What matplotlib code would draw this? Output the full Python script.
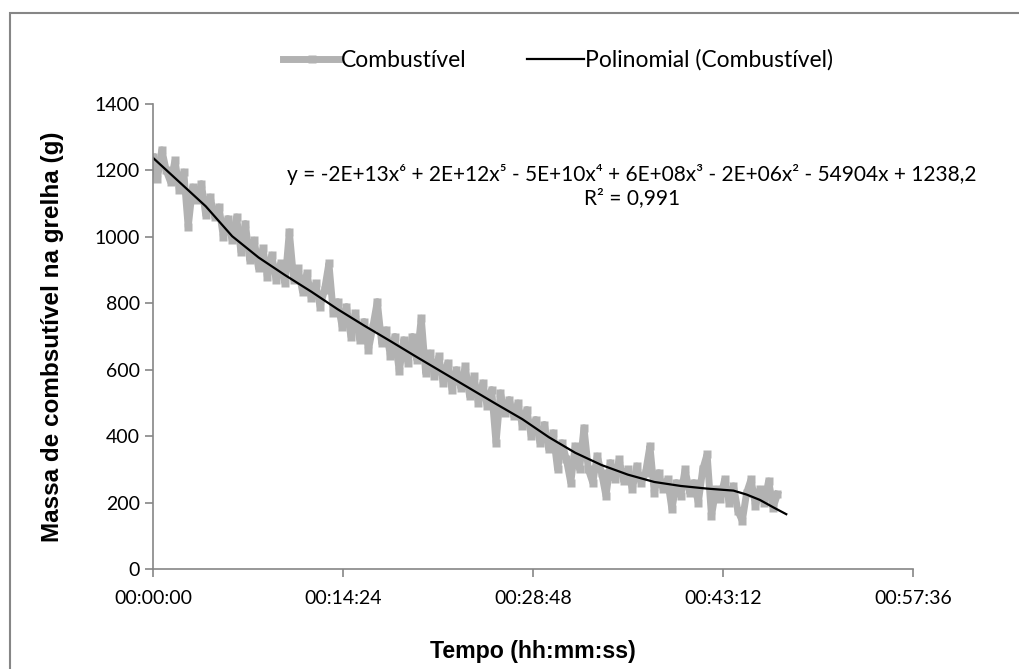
import matplotlib
matplotlib.use("Agg")
import matplotlib.pyplot as plt
import matplotlib.patches as mpatches
from matplotlib.ticker import FuncFormatter, MultipleLocator

# sampling step of the fuel series (seconds)
SAMPLE_STEP_S = 20

# mass on the grate (g), one reading every 20 s
combustivel = [
    1240, 1175, 1262, 1200, 1165, 1230, 1140, 1195, 1030, 1150, 1110, 1160,
    1065, 1120, 1060, 1090, 1000, 1055, 990, 1060, 955, 1040, 930, 990,
    905, 965, 880, 945, 870, 920, 860, 1015, 870, 905, 835, 890,
    815, 860, 790, 840, 920, 770, 805, 730, 790, 700, 770, 690,
    745, 660, 730, 805, 680, 720, 640, 700, 595, 690, 620, 700,
    630, 755, 590, 650, 580, 640, 560, 620, 540, 600, 545, 610,
    520, 580, 500, 560, 490, 540, 380, 530, 470, 510, 460, 500,
    430, 480, 400, 450, 380, 435, 360, 410, 300, 380, 330, 260,
    370, 300, 425, 300, 260, 340, 290, 220, 320, 270, 330, 265,
    300, 240, 310, 260, 290, 370, 230, 290, 240, 270, 180, 260,
    220, 300, 230, 260, 200, 300, 345, 160, 240, 210, 270, 200,
    250, 175, 145, 230, 270, 190, 240, 200, 265, 185, 225,
]

# polynomial trend (minutes, g)
trend_min = [0, 2, 4, 6, 8, 10, 12, 14, 16, 18, 20, 22, 24, 26, 28, 30,
             32, 34, 36, 38, 40, 42, 44, 45, 46, 47, 48]
trend_val = [1238, 1165, 1092, 1002, 938, 885, 835, 782, 733, 686, 638, 591,
             544, 497, 451, 397, 350, 313, 284, 262, 250, 242, 236, 224, 208,
             186, 165]

equation = ("y = -2E+13x\u2076 + 2E+12x\u2075 - 5E+10x\u2074 + 6E+08x\u00b3 - "
            "2E+06x\u00b2 - 54904x + 1238,2\nR\u00b2 = 0,991")

x_days = [i * SAMPLE_STEP_S / 86400 for i in range(len(combustivel))]
trend_days = [m / 1440 for m in trend_min]

tick_font = ["Lato", "DejaVu Sans"]
axis_grey = "#868686"
series_grey = "#B2B2B2"

fig = plt.figure(figsize=(10.2, 6.69), dpi=100)
ax = fig.add_axes([0.15, 0.1495, 0.745, 0.695])

ax.plot(x_days, combustivel, color=series_grey, lw=5, marker="s", ms=5.5,
        mec="none", mfc=series_grey, label="Combustível")
ax.plot(trend_days, trend_val, color="black", lw=1.6,
        label="Polinomial (Combustível)")

ax.set_xlim(0, 0.04)
ax.set_ylim(0, 1400)
ax.xaxis.set_major_locator(MultipleLocator(0.01))
ax.yaxis.set_major_locator(MultipleLocator(200))


def hms(v, pos):
    s = int(round(v * 86400))
    return f"{s // 3600:02d}:{(s % 3600) // 60:02d}:{s % 60:02d}"


ax.xaxis.set_major_formatter(FuncFormatter(hms))

for side in ["top", "right"]:
    ax.spines[side].set_visible(False)
for side in ["left", "bottom"]:
    ax.spines[side].set_color(axis_grey)
    ax.spines[side].set_linewidth(1.2)
ax.tick_params(direction="out", length=6, width=1.2, color=axis_grey,
               labelsize=14, labelcolor="black")
ax.tick_params(axis="x", pad=9)
for lab in ax.get_xticklabels() + ax.get_yticklabels():
    lab.set_family(tick_font)

ax.set_xlabel("Tempo (hh:mm:ss)", fontsize=16.7, fontweight="bold",
              family="Liberation Sans", labelpad=24)
ax.set_ylabel("Massa de combsutível na grelha (g)", fontsize=17.5,
              fontweight="bold", family="Liberation Sans", labelpad=22)

fig.text(632 / 1020, 1 - 186 / 669, equation, ha="center", va="center",
         multialignment="center", fontsize=15, family=tick_font,
         linespacing=1.15)

fig.legend(loc="center", bbox_to_anchor=(0.547, 0.91), ncol=2, frameon=False,
           prop={"family": tick_font, "size": 16.5}, handlelength=2.5,
           columnspacing=2.6, handletextpad=0.05)

# chart area border (runs off the right and bottom of the image)
fig.patches.append(mpatches.Rectangle((10 / 1020, -0.2), 1.3, 1.2 - 13 / 669,
                                      transform=fig.transFigure, fill=False,
                                      edgecolor=axis_grey, lw=1.5))

fig.savefig("out.png", dpi=100)
